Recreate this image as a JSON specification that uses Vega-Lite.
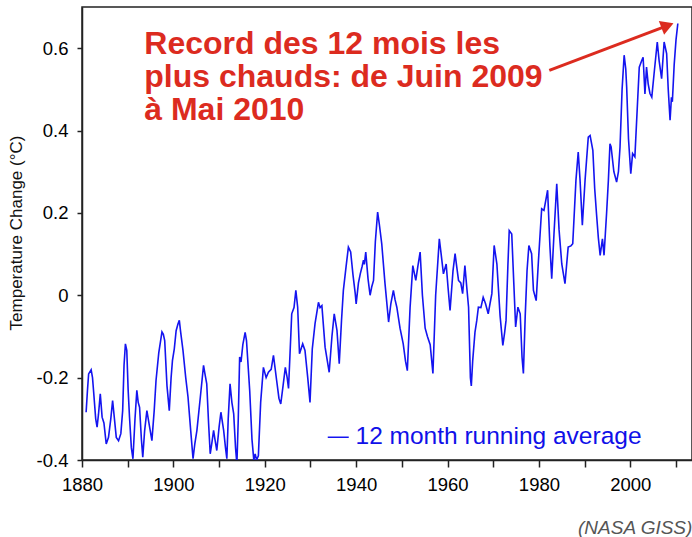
{
  "$schema": "https://vega.github.io/schema/vega-lite/v6.json",
  "width": 610,
  "height": 453,
  "autosize": "none",
  "padding": {"left": 82, "top": 7, "right": 0, "bottom": 77},
  "background": "white",
  "config": {
    "font": "Liberation Sans",
    "view": {"stroke": "#222222", "strokeWidth": 1.5}
  },
  "datasets": {
    "temp": [
      {"year": 1880.9, "value": -0.284}, {"year": 1881.2, "value": -0.23}, {"year": 1881.45, "value": -0.191},
      {"year": 1882.0, "value": -0.181}, {"year": 1882.3, "value": -0.2}, {"year": 1882.55, "value": -0.235},
      {"year": 1883.0, "value": -0.3}, {"year": 1883.3, "value": -0.32}, {"year": 1883.6, "value": -0.29},
      {"year": 1884.0, "value": -0.239}, {"year": 1884.4, "value": -0.296}, {"year": 1884.8, "value": -0.31},
      {"year": 1885.3, "value": -0.361}, {"year": 1885.8, "value": -0.345}, {"year": 1886.3, "value": -0.3},
      {"year": 1886.7, "value": -0.256}, {"year": 1887.1, "value": -0.3}, {"year": 1887.5, "value": -0.345},
      {"year": 1888.0, "value": -0.353}, {"year": 1888.5, "value": -0.336}, {"year": 1888.9, "value": -0.28},
      {"year": 1889.2, "value": -0.17}, {"year": 1889.5, "value": -0.118}, {"year": 1889.8, "value": -0.134},
      {"year": 1890.1, "value": -0.23}, {"year": 1890.4, "value": -0.296}, {"year": 1890.8, "value": -0.37},
      {"year": 1891.15, "value": -0.397}, {"year": 1891.6, "value": -0.3}, {"year": 1892.0, "value": -0.231},
      {"year": 1892.3, "value": -0.26}, {"year": 1892.6, "value": -0.272}, {"year": 1893.0, "value": -0.35},
      {"year": 1893.3, "value": -0.393}, {"year": 1893.7, "value": -0.33}, {"year": 1894.2, "value": -0.28},
      {"year": 1894.8, "value": -0.32}, {"year": 1895.3, "value": -0.353}, {"year": 1895.8, "value": -0.28},
      {"year": 1896.2, "value": -0.207}, {"year": 1896.8, "value": -0.14}, {"year": 1897.5, "value": -0.089},
      {"year": 1897.8, "value": -0.095}, {"year": 1898.1, "value": -0.11}, {"year": 1898.6, "value": -0.22},
      {"year": 1899.1, "value": -0.28}, {"year": 1899.5, "value": -0.2}, {"year": 1899.8, "value": -0.158},
      {"year": 1900.2, "value": -0.13}, {"year": 1900.6, "value": -0.086}, {"year": 1901.0, "value": -0.07},
      {"year": 1901.3, "value": -0.061}, {"year": 1901.6, "value": -0.09}, {"year": 1902.1, "value": -0.134},
      {"year": 1902.7, "value": -0.2}, {"year": 1903.2, "value": -0.247}, {"year": 1903.8, "value": -0.33},
      {"year": 1904.3, "value": -0.397}, {"year": 1904.7, "value": -0.36}, {"year": 1905.15, "value": -0.328},
      {"year": 1905.9, "value": -0.247}, {"year": 1906.6, "value": -0.17}, {"year": 1906.9, "value": -0.19},
      {"year": 1907.3, "value": -0.215}, {"year": 1907.7, "value": -0.31}, {"year": 1908.06, "value": -0.385},
      {"year": 1908.4, "value": -0.36}, {"year": 1908.8, "value": -0.328}, {"year": 1909.1, "value": -0.35},
      {"year": 1909.5, "value": -0.377}, {"year": 1910.0, "value": -0.32}, {"year": 1910.4, "value": -0.284},
      {"year": 1911.0, "value": -0.328}, {"year": 1911.4, "value": -0.37}, {"year": 1911.7, "value": -0.397},
      {"year": 1912.0, "value": -0.3}, {"year": 1912.4, "value": -0.215}, {"year": 1912.8, "value": -0.26},
      {"year": 1913.2, "value": -0.288}, {"year": 1913.6, "value": -0.37}, {"year": 1913.9, "value": -0.41},
      {"year": 1914.2, "value": -0.3}, {"year": 1914.5, "value": -0.15}, {"year": 1914.8, "value": -0.162},
      {"year": 1915.2, "value": -0.12}, {"year": 1915.7, "value": -0.09}, {"year": 1916.0, "value": -0.11},
      {"year": 1916.7, "value": -0.231}, {"year": 1917.2, "value": -0.35}, {"year": 1917.6, "value": -0.4},
      {"year": 1917.9, "value": -0.385}, {"year": 1918.2, "value": -0.4}, {"year": 1918.6, "value": -0.39},
      {"year": 1919.1, "value": -0.26}, {"year": 1919.7, "value": -0.175}, {"year": 1920.3, "value": -0.2},
      {"year": 1920.8, "value": -0.187}, {"year": 1921.4, "value": -0.18}, {"year": 1921.9, "value": -0.146},
      {"year": 1922.6, "value": -0.207}, {"year": 1923.1, "value": -0.25}, {"year": 1923.5, "value": -0.264},
      {"year": 1924.0, "value": -0.22}, {"year": 1924.5, "value": -0.175}, {"year": 1924.9, "value": -0.2},
      {"year": 1925.2, "value": -0.226}, {"year": 1925.9, "value": -0.045}, {"year": 1926.4, "value": -0.03},
      {"year": 1926.8, "value": 0.012}, {"year": 1927.2, "value": -0.029}, {"year": 1927.6, "value": -0.142},
      {"year": 1928.3, "value": -0.118}, {"year": 1928.8, "value": -0.134}, {"year": 1929.4, "value": -0.2},
      {"year": 1929.9, "value": -0.26}, {"year": 1930.4, "value": -0.13}, {"year": 1931.0, "value": -0.069},
      {"year": 1931.75, "value": -0.017}, {"year": 1932.1, "value": -0.03}, {"year": 1932.5, "value": -0.025},
      {"year": 1933.2, "value": -0.126}, {"year": 1934.1, "value": -0.187}, {"year": 1934.7, "value": -0.1},
      {"year": 1935.2, "value": -0.045}, {"year": 1935.8, "value": -0.085}, {"year": 1936.3, "value": -0.166},
      {"year": 1936.8, "value": -0.06}, {"year": 1937.2, "value": 0.012}, {"year": 1937.8, "value": 0.07},
      {"year": 1938.3, "value": 0.117}, {"year": 1938.8, "value": 0.105}, {"year": 1939.3, "value": 0.05},
      {"year": 1939.8, "value": 0.004}, {"year": 1940.0, "value": -0.021}, {"year": 1940.5, "value": 0.03},
      {"year": 1940.9, "value": 0.052}, {"year": 1941.3, "value": 0.07}, {"year": 1941.6, "value": 0.085},
      {"year": 1941.8, "value": 0.075}, {"year": 1942.1, "value": 0.105}, {"year": 1942.6, "value": 0.04},
      {"year": 1943.05, "value": 0.0}, {"year": 1943.4, "value": 0.02}, {"year": 1943.8, "value": 0.036},
      {"year": 1944.2, "value": 0.13}, {"year": 1944.7, "value": 0.202}, {"year": 1945.1, "value": 0.17},
      {"year": 1945.6, "value": 0.125}, {"year": 1946.3, "value": 0.03}, {"year": 1947.1, "value": -0.065},
      {"year": 1947.6, "value": -0.02}, {"year": 1948.15, "value": 0.012}, {"year": 1948.5, "value": -0.01},
      {"year": 1948.9, "value": -0.029}, {"year": 1949.6, "value": -0.08}, {"year": 1950.3, "value": -0.118},
      {"year": 1950.8, "value": -0.16}, {"year": 1951.2, "value": -0.183}, {"year": 1951.8, "value": -0.03},
      {"year": 1952.4, "value": 0.072}, {"year": 1953.05, "value": 0.036}, {"year": 1953.5, "value": 0.07},
      {"year": 1954.0, "value": 0.105}, {"year": 1954.5, "value": 0.0}, {"year": 1955.1, "value": -0.08},
      {"year": 1955.6, "value": -0.1}, {"year": 1956.2, "value": -0.12}, {"year": 1956.8, "value": -0.19},
      {"year": 1957.4, "value": 0.0}, {"year": 1958.2, "value": 0.137}, {"year": 1958.6, "value": 0.1},
      {"year": 1959.1, "value": 0.052}, {"year": 1959.7, "value": 0.076}, {"year": 1960.1, "value": 0.02},
      {"year": 1960.55, "value": -0.037}, {"year": 1961.2, "value": 0.06}, {"year": 1961.65, "value": 0.101},
      {"year": 1962.0, "value": 0.07}, {"year": 1962.4, "value": 0.036}, {"year": 1962.9, "value": 0.03},
      {"year": 1963.3, "value": 0.004}, {"year": 1963.8, "value": 0.072}, {"year": 1964.2, "value": 0.02},
      {"year": 1964.6, "value": -0.029}, {"year": 1965.0, "value": -0.2}, {"year": 1965.2, "value": -0.22},
      {"year": 1965.5, "value": -0.16}, {"year": 1966.0, "value": -0.09}, {"year": 1966.4, "value": -0.061},
      {"year": 1966.75, "value": -0.029}, {"year": 1967.3, "value": -0.03}, {"year": 1967.8, "value": -0.005},
      {"year": 1968.3, "value": -0.02}, {"year": 1968.9, "value": -0.045}, {"year": 1969.3, "value": -0.02},
      {"year": 1969.7, "value": 0.004}, {"year": 1970.2, "value": 0.121}, {"year": 1970.8, "value": 0.076},
      {"year": 1971.5, "value": -0.05}, {"year": 1972.1, "value": -0.122}, {"year": 1972.5, "value": -0.09},
      {"year": 1972.8, "value": -0.061}, {"year": 1973.2, "value": 0.07}, {"year": 1973.5, "value": 0.157},
      {"year": 1974.05, "value": 0.149}, {"year": 1974.5, "value": 0.03}, {"year": 1974.9, "value": -0.077},
      {"year": 1975.4, "value": -0.029}, {"year": 1975.9, "value": -0.045}, {"year": 1976.3, "value": -0.15},
      {"year": 1976.6, "value": -0.19}, {"year": 1977.0, "value": -0.05}, {"year": 1977.4, "value": 0.06},
      {"year": 1977.8, "value": 0.121}, {"year": 1978.4, "value": 0.101}, {"year": 1978.8, "value": 0.012},
      {"year": 1979.4, "value": -0.013}, {"year": 1979.9, "value": 0.085}, {"year": 1980.6, "value": 0.21},
      {"year": 1981.1, "value": 0.206}, {"year": 1981.9, "value": 0.255}, {"year": 1982.4, "value": 0.12},
      {"year": 1982.8, "value": 0.04}, {"year": 1983.3, "value": 0.15}, {"year": 1983.9, "value": 0.271},
      {"year": 1984.4, "value": 0.16}, {"year": 1985.0, "value": 0.076}, {"year": 1985.7, "value": 0.028},
      {"year": 1986.4, "value": 0.117}, {"year": 1987.0, "value": 0.12}, {"year": 1987.4, "value": 0.125},
      {"year": 1988.1, "value": 0.279}, {"year": 1988.6, "value": 0.348}, {"year": 1989.0, "value": 0.28},
      {"year": 1989.5, "value": 0.17}, {"year": 1990.1, "value": 0.28}, {"year": 1990.8, "value": 0.384},
      {"year": 1991.2, "value": 0.388}, {"year": 1991.8, "value": 0.352}, {"year": 1992.2, "value": 0.26},
      {"year": 1992.6, "value": 0.198}, {"year": 1993.0, "value": 0.14}, {"year": 1993.4, "value": 0.097},
      {"year": 1993.9, "value": 0.137}, {"year": 1994.25, "value": 0.097}, {"year": 1994.8, "value": 0.198},
      {"year": 1995.2, "value": 0.279}, {"year": 1995.55, "value": 0.368}, {"year": 1995.8, "value": 0.36},
      {"year": 1996.4, "value": 0.3}, {"year": 1997.0, "value": 0.275}, {"year": 1997.4, "value": 0.3},
      {"year": 1997.75, "value": 0.36}, {"year": 1998.2, "value": 0.5}, {"year": 1998.65, "value": 0.583},
      {"year": 1999.0, "value": 0.55}, {"year": 1999.2, "value": 0.506}, {"year": 1999.6, "value": 0.38},
      {"year": 2000.1, "value": 0.295}, {"year": 2000.5, "value": 0.344}, {"year": 2001.0, "value": 0.336},
      {"year": 2001.5, "value": 0.45}, {"year": 2001.96, "value": 0.554}, {"year": 2002.5, "value": 0.57},
      {"year": 2002.8, "value": 0.578}, {"year": 2003.2, "value": 0.489}, {"year": 2003.55, "value": 0.554},
      {"year": 2003.9, "value": 0.514}, {"year": 2004.3, "value": 0.49}, {"year": 2004.7, "value": 0.481},
      {"year": 2005.2, "value": 0.538}, {"year": 2005.9, "value": 0.615}, {"year": 2006.3, "value": 0.57},
      {"year": 2006.85, "value": 0.526}, {"year": 2007.4, "value": 0.615}, {"year": 2007.95, "value": 0.587},
      {"year": 2008.3, "value": 0.5}, {"year": 2008.7, "value": 0.425}, {"year": 2009.0, "value": 0.481},
      {"year": 2009.2, "value": 0.47}, {"year": 2009.6, "value": 0.56}, {"year": 2010.0, "value": 0.62},
      {"year": 2010.4, "value": 0.66}
    ],
    "arrow": [{"year": 1982.27, "value": 0.546, "year2": 2008.13, "value2": 0.655}],
    "arrowhead": [{"year": 2008.13, "value": 0.655}],
    "note": [{"year": 1893.63, "value": 0.5868, "label": "Record des 12 mois les\nplus chauds: de Juin 2009\nà Mai 2010"}],
    "source": [{"year": 1988.55, "value": -0.5787, "label": "(NASA GISS)"}]
  },
  "encoding": {
    "x": {
      "field": "year",
      "type": "quantitative",
      "scale": {"domain": [1880, 2013.5], "nice": false, "zero": false},
      "axis": {
        "title": null,
        "grid": false,
        "values": [1880, 1890, 1900, 1910, 1920, 1930, 1940, 1950, 1960, 1970, 1980, 1990, 2000, 2010],
        "labelExpr": "datum.value % 20 === 0 ? '' + datum.value : ''",
        "labelFont": "Liberation Sans",
        "labelFontSize": 18.5,
        "labelColor": "#000000",
        "labelPadding": 8,
        "tickSize": 7,
        "tickColor": "#222222",
        "tickWidth": 1.5,
        "domainColor": "#222222",
        "domainWidth": 1.5,
        "labelFlush": false,
        "labelOverlap": false
      }
    },
    "y": {
      "field": "value",
      "type": "quantitative",
      "scale": {"domain": [-0.4, 0.7], "nice": false, "zero": false},
      "axis": {
        "title": "Temperature Change (°C)",
        "titleFont": "Liberation Sans",
        "titleFontSize": 17,
        "titleFontWeight": "normal",
        "titleColor": "#111111",
        "titleAngle": -90,
        "titleAlign": "center",
        "titleBaseline": "alphabetic",
        "titleX": -60.5,
        "titleY": 225.5,
        "grid": false,
        "values": [-0.4, -0.2, 0, 0.2, 0.4, 0.6],
        "labelExpr": "datum.value == 0 ? '0' : (datum.value < 0 ? '-' + format(-datum.value, '.1f') : format(datum.value, '.1f'))",
        "labelFont": "Liberation Sans",
        "labelFontSize": 18.5,
        "labelColor": "#000000",
        "labelPadding": 9,
        "tickSize": 5,
        "tickColor": "#222222",
        "tickWidth": 1.5,
        "domainColor": "#222222",
        "domainWidth": 1.5,
        "labelFlush": false,
        "labelOverlap": false
      }
    }
  },
  "layer": [
    {
      "data": {"name": "temp"},
      "mark": {"type": "line", "clip": true, "strokeWidth": 1.6, "interpolate": "linear"},
      "encoding": {
        "color": {
          "datum": "12 month running average",
          "type": "nominal",
          "scale": {"range": ["#1414f0"]},
          "legend": {
            "title": null,
            "orient": "none",
            "legendX": 244,
            "legendY": 418,
            "padding": 0,
            "symbolType": "stroke",
            "symbolSize": 441,
            "symbolStrokeWidth": 1.5,
            "labelFont": "Liberation Sans",
            "labelFontSize": 24.5,
            "labelColor": "#1010e8",
            "labelOffset": 5,
            "labelLimit": 0
          }
        }
      }
    },
    {
      "data": {"name": "arrow"},
      "mark": {"type": "rule", "color": "#dc2b1f", "strokeWidth": 3},
      "encoding": {
        "x2": {"field": "year2"},
        "y2": {"field": "value2"}
      }
    },
    {
      "data": {"name": "arrowhead"},
      "mark": {"type": "point", "shape": "triangle-right", "filled": true, "color": "#dc2b1f", "opacity": 1, "size": 220, "angle": 339.2},
      "encoding": {}
    },
    {
      "data": {"name": "note"},
      "mark": {"type": "text", "align": "left", "baseline": "alphabetic", "font": "Liberation Sans", "fontWeight": "bold", "fontSize": 32, "lineHeight": 33, "lineBreak": "\n", "color": "#dc2b1f"},
      "encoding": {"text": {"field": "label"}}
    },
    {
      "data": {"name": "source"},
      "mark": {"type": "text", "align": "left", "baseline": "alphabetic", "font": "Liberation Sans", "fontStyle": "italic", "fontSize": 19, "color": "#555555"},
      "encoding": {"text": {"field": "label"}}
    }
  ]
}
